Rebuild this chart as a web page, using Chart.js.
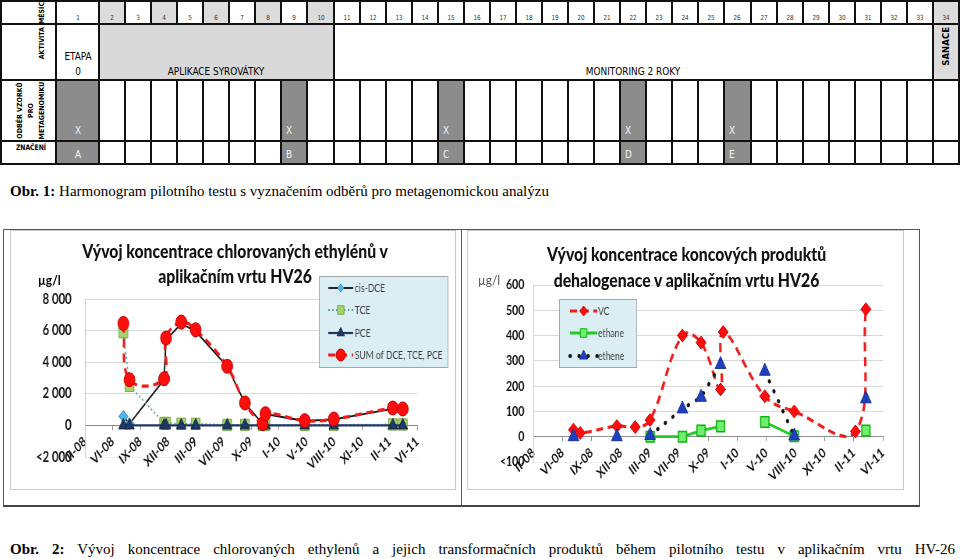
<!DOCTYPE html>
<html lang="cs"><head><meta charset="utf-8">
<title>Harmonogram a vývoj koncentrací HV26</title>
<script src="https://cdn.jsdelivr.net/npm/chart.js@4.4.1/dist/chart.umd.min.js"></script>
<style>
html,body{margin:0;padding:0;background:#fff;}
body{width:960px;height:559px;position:relative;overflow:hidden;font-family:'DejaVu Sans Condensed','DejaVu Sans',sans-serif;color:#000;}
.a{position:absolute;white-space:nowrap;}
.vt{position:absolute;white-space:nowrap;transform-origin:0 0;transform:rotate(-90deg);}
.cap{position:absolute;font-family:'Liberation Serif','DejaVu Serif',serif;font-size:15px;line-height:18px;white-space:nowrap;}
.ttl{position:absolute;font-family:Lato,'DejaVu Sans Condensed',sans-serif;font-weight:900;font-size:18px;text-align:center;white-space:nowrap;color:#111;transform:scaleX(0.875);transform-origin:50% 0;}
canvas{position:absolute;transform-origin:0 0;transform:scaleX(0.78);}
</style></head><body>
<div id="tbl"></div>
<div class="cap" style="left:10px;top:182px"><b>Obr. 1:</b> Harmonogram pilotního testu s vyznačením odběrů pro metagenomickou analýzu</div>

<div class="a" style="left:3px;top:229px;width:917px;height:278px;border:1px solid #555;border-bottom:2px solid #444;box-sizing:border-box"></div>
<div class="a" style="left:461px;top:229px;width:1px;height:278px;background:#555"></div>
<div class="a" style="left:10px;top:230px;width:446px;height:260px;border:1px solid #c8c8c8;box-sizing:border-box"></div>
<div class="a" style="left:467px;top:230px;width:437px;height:260px;border:1px solid #c8c8c8;box-sizing:border-box"></div>

<canvas id="c1" width="572" height="260" style="left:10px;top:230px"></canvas>
<canvas id="c2" width="560" height="260" style="left:467px;top:230px"></canvas>

<div class="ttl" style="left:12px;top:239px;width:446px;line-height:25px">Vývoj koncentrace chlorovaných ethylénů v<br>aplikačním vrtu HV26</div>
<div class="ttl" style="left:468px;top:241px;width:437px;line-height:26px">Vývoj koncentrace koncových produktů<br>dehalogenace v aplikačním vrtu HV26</div>
<div class="a" style="left:38px;top:271px;font-family:Lato,sans-serif;font-size:14px;font-weight:bold;line-height:18px;transform:scaleX(0.85);transform-origin:0 0">µg/l</div>
<div class="a" style="left:478px;top:271px;font-family:Lato,sans-serif;font-size:14px;color:#555;line-height:18px;transform:scaleX(0.85);transform-origin:0 0">µg/l</div>

<div class="cap" style="left:10px;top:540px;width:945px;text-align:justify;text-align-last:justify;white-space:normal"><b>Obr. 2:</b> Vývoj koncentrace chlorovaných ethylenů a jejich transformačních produktů během pilotního testu v&nbsp;aplikačním vrtu HV-26</div>

<script>
// ---------- table content ----------
const monthLabels = ['1','2','3','4','5','6','7','8','9','10','11','12','13','14','15','16','17','18','19','20','21','22','23','24','25','26','27','28','29','30','31','32','33','34'];
const shadedMonths = [2,4,6,8,10,34];
const sampleMonths = [1,9,15,22,26];
const sampleCodes = ['A','B','C','D','E'];
const activities = [
  {text:'APLIKACE SYROVÁTKY', from:2, to:10, fill:'#d9d9d9'},
  {text:'MONITORING 2 ROKY', from:11, to:33, fill:'#ffffff'}
];

// ---------- chart data ----------
const xLabels = ['II-08','VI-08','IX-08','XII-08','III-09','VII-09','X-09','I-10','V-10','VIII-10','XI-10','II-11','VI-11'];

const datesL = [1.39, 1.61, 2.86, 2.93, 3.48, 4.00, 5.14, 5.78, 6.42, 6.52, 7.94, 8.99, 11.12, 11.48];
const cisDCE = [570, 100, 2900, 5400, 6450, 5950, 3720, 1400, 90, 720, 280, 380, 1040, 980];
const TCE    = [5900, 2510, 150, 150, 100, 100, 30, 30, 30, 30, 30, 30, 60, 60];
const PCE    = [0, 0, 0, 0, 0, 0, 0, 0, 0, 0, 0, 0, 0, 0];
const SUM    = [6450, 2890, 2950, 5530, 6540, 6050, 3740, 1420, 110, 740, 300, 400, 1100, 1040];
const yTicksL = ['<2 000','0','2 000','4 000','6 000','8 000'];

const datesR = [1.38, 1.61, 2.87, 3.50, 4.01, 5.12, 5.76, 6.43, 6.52, 7.95, 8.96, 11.06, 11.42];
const VC     = [28, 15, 42, 38, 66, 400, 372, 187, 414, 160, 100, 21, 504];
const ethane = [null, null, null, null, 0, 0, 24, 41, null, 58, 2, null, 24];
const ethene = [0, null, 0, null, 5, 110, 156, 286, null, 259, 3, null, 150];
const yTicksR = ['<100','0','100','200','300','400','500','600'];

// ---------- build table ----------
const tbl = document.getElementById('tbl');
const H0 = 56, C1 = 99, CW = 26.06;
const colL = c => c === 1 ? H0 : C1 + (c - 2) * CW;
const colR = c => c === 1 ? C1 : C1 + (c - 1) * CW;
const rowY = [0, 24, 80, 141, 164];
function el(css, html, cls) {
  const d = document.createElement('div');
  d.className = cls || 'a';
  d.style.cssText = css;
  if (html !== undefined) d.innerHTML = html;
  tbl.appendChild(d);
  return d;
}
function rect(x0, y0, x1, y1, bg) { el(`left:${x0}px;top:${y0}px;width:${x1-x0}px;height:${y1-y0}px;background:${bg}`); }
function hline(y, x0, x1) { el(`left:${x0}px;top:${y-1}px;width:${x1-x0}px;height:2px;background:#111`); }
function vline(x, y0, y1) { el(`left:${x-1}px;top:${y0}px;width:2px;height:${y1-y0}px;background:#111`); }
function ctext(txt, cx, cy, size, extra) {
  el(`left:${cx-100}px;top:${cy-size}px;width:200px;text-align:center;font-size:${size}px;line-height:${size*2}px;transform:scaleX(0.9);${extra||''}`, txt);
}
function ltext(txt, x, cy, size, extra) {
  el(`left:${x}px;top:${cy-size}px;font-size:${size}px;line-height:${size*2}px;transform:scaleX(0.9);transform-origin:0 0;${extra||''}`, txt);
}
function vtext(txt, cx, yTop, len, size, lineH, align, extra) {
  el(`left:${cx - lineH/2}px;top:${yTop+len}px;width:${len}px;text-align:${align};font-size:${size}px;line-height:${lineH}px;${extra||''}`, txt, 'vt');
}
// backgrounds
shadedMonths.forEach(m => rect(colL(m), rowY[0], colR(m), rowY[1], '#dcdcdc'));
activities.forEach(a => rect(colL(a.from), rowY[1], colR(a.to), rowY[2], a.fill));
rect(colL(34), rowY[1], colR(34), rowY[2], '#dcdcdc');
sampleMonths.forEach(m => rect(colL(m), rowY[2], colR(m), rowY[4], '#8c8c8c'));
// lines
rowY.forEach(y => hline(y === 0 ? 1 : y, 0, 960));
vline(1, 0, 164); vline(H0, 0, 164);
[0, 2, 3].forEach(r => { for (let c = 1; c <= 34; c++) vline(colR(c), rowY[r], rowY[r+1]); });
[1, 10, 33, 34].forEach(c => vline(colR(c), rowY[1], rowY[2]));
// texts
monthLabels.forEach((t, i) => ctext(t, (colL(i+1) + colR(i+1)) / 2, 18, 7, 'color:#333'));
ctext('ETAPA', 77.5, 57, 11);
ctext('0', 77.5, 72, 11);
activities.forEach(a => ctext(a.text, (colL(a.from) + colR(a.to)) / 2, 72, 11));
vtext('SANACE', (colL(34) + colR(34)) / 2, 27, 40, 9.5, 13, 'right', 'font-weight:bold');
sampleMonths.forEach((m, i) => {
  if (m === 1) { ctext('X', 77.5, 131, 11, 'color:#f4f4f4'); ctext(sampleCodes[i], 77.5, 155, 11, 'color:#f4f4f4'); }
  else { ltext('X', colL(m) + 5, 131, 11, 'color:#f4f4f4'); ltext(sampleCodes[i], colL(m) + 5, 155, 11, 'color:#f4f4f4'); }
});
vtext('MĚSÍC', 42, 2, 22, 7, 10, 'right', 'font-weight:bold');
vtext('AKTIVITA', 42, 27, 40, 7, 10, 'right', 'font-weight:bold');
vtext('ODBĚR VZORKŮ<br>PRO<br>METAGENOMIKU', 20.7, 80, 61, 7, 10.8, 'center', 'font-weight:bold');
ctext('ZNAČENÍ', 31, 147, 7.5, 'font-weight:bold');

// ---------- charts ----------
// canvases are drawn wide and squeezed horizontally by 0.78 (like the reference figure)
const FONT = "Lato,'DejaVu Sans Condensed',sans-serif";

function markerPath(ctx, style, x, y, r) {
  ctx.beginPath();
  if (style === 'circle') ctx.arc(x, y, r, 0, Math.PI * 2);
  else if (style === 'rect') { const s = r * Math.SQRT1_2; ctx.rect(x - s, y - s, 2 * s, 2 * s); }
  else if (style === 'rectRot') { ctx.moveTo(x, y - r); ctx.lineTo(x + r, y); ctx.lineTo(x, y + r); ctx.lineTo(x - r, y); ctx.closePath(); }
  else if (style === 'triangle') {
    ctx.moveTo(x, y - r);
    ctx.lineTo(x + r * Math.sin(2 * Math.PI / 3), y - r * Math.cos(2 * Math.PI / 3));
    ctx.lineTo(x + r * Math.sin(4 * Math.PI / 3), y - r * Math.cos(4 * Math.PI / 3));
    ctx.closePath();
  }
}
const boxLegend = {
  id: 'boxLegend',
  afterDraw(chart, args, o) {
    if (!o || !o.rows) return;
    const ctx = chart.ctx;
    ctx.save();
    ctx.fillStyle = o.bg; ctx.fillRect(o.x, o.y, o.w, o.h);
    ctx.strokeStyle = o.border; ctx.lineWidth = 1; ctx.setLineDash([]);
    ctx.strokeRect(o.x + 0.5, o.y + 0.5, o.w, o.h);
    o.rows.forEach(row => {
      const ds = chart.data.datasets[row.index];
      ctx.save();
      ctx.beginPath();
      ctx.setLineDash(ds.borderDash || []);
      ctx.lineCap = ds.borderCapStyle || 'butt';
      ctx.strokeStyle = ds.borderColor; ctx.lineWidth = ds.borderWidth;
      ctx.moveTo(o.sample[0], row.y); ctx.lineTo(o.sample[1], row.y); ctx.stroke();
      ctx.restore();
      markerPath(ctx, ds.pointStyle, (o.sample[0] + o.sample[1]) / 2, row.y, row.r);
      ctx.fillStyle = ds.pointBackgroundColor; ctx.fill();
      ctx.strokeStyle = ds.pointBorderColor; ctx.lineWidth = 1; ctx.setLineDash([]); ctx.stroke();
      ctx.fillStyle = '#404040';
      ctx.font = o.font;
      ctx.textBaseline = 'middle';
      ctx.fillText(ds.label, o.textX, row.y + 0.5);
    });
    ctx.restore();
  }
};

function pts(xs, ys) { return xs.map((x, i) => ({x: x, y: ys[i]})); }

function options(cfg) {
  return {
    responsive: false, animation: false, events: [],
    layout: {padding: {left: 0, top: cfg.padTop, right: cfg.padRight, bottom: cfg.padBottom}},
    plugins: {legend: {display: false}, tooltip: {enabled: false}, title: {display: false}, boxLegend: cfg.legend},
    scales: {
      x: {
        type: 'linear', min: 0, max: 12, position: {y: 0},
        ticks: {stepSize: 1, autoSkip: false, minRotation: 41, maxRotation: 41, padding: cfg.xPad, color: '#111',
                font: {family: FONT, size: 13.5, weight: 'bold'}, callback: (v, i) => xLabels[i]},
        grid: {drawOnChartArea: false, drawTicks: true, tickLength: 4, color: '#8c8c8c'},
        border: {display: true, color: '#8c8c8c', width: 1}
      },
      y: {
        min: cfg.yMin, max: cfg.yMax,
        afterFit: s => { s.width = cfg.yWidth; },
        ticks: {stepSize: cfg.step, padding: cfg.yPad, color: '#111', font: {family: FONT, size: cfg.ySize, weight: 'bold'},
                callback: (v, i) => cfg.yLabels[i]},
        grid: {drawTicks: false, color: c => (c.tick && c.tick.value === cfg.yMin) ? '#ededed' : '#d9d9d9'},
        border: {display: true, color: '#c8c8c8'}
      }
    }
  };
}

new Chart(document.getElementById('c1'), {
  type: 'line',
  data: {datasets: [
    {label: 'cis-DCE', data: pts(datesL, cisDCE), order: 3, tension: 0,
     borderColor: '#111111', borderWidth: 1.8, pointStyle: 'rectRot', pointRadius: 6,
     pointBackgroundColor: '#4fb3e8', pointBorderColor: '#3a8fc0', pointBorderWidth: 1},
    {label: 'TCE', data: pts(datesL, TCE), order: 2, tension: 0,
     borderColor: '#5aa0a0', borderWidth: 1.8, borderDash: [2, 3], pointStyle: 'rect', pointRadius: 8,
     pointBackgroundColor: '#a5d46a', pointBorderColor: '#78a64a', pointBorderWidth: 1},
    {label: 'PCE', data: pts(datesL, PCE), order: 1, tension: 0,
     borderColor: '#1f3864', borderWidth: 2.2, pointStyle: 'triangle', pointRadius: 7,
     pointBackgroundColor: '#1f3864', pointBorderColor: '#14284a', pointBorderWidth: 1},
    {label: 'SUM of DCE, TCE, PCE', data: pts(datesL, SUM), order: 0, tension: 0.4,
     borderColor: '#ee1c1c', borderWidth: 3.2, borderDash: [9, 6], pointStyle: 'circle', pointRadius: 7,
     pointBackgroundColor: '#ff0d0d', pointBorderColor: '#c00000', pointBorderWidth: 1}
  ]},
  options: options({padTop: 69, padRight: 50, padBottom: 33, yMin: -2000, yMax: 8000, step: 2000, yWidth: 96,
    yPad: 17, ySize: 14.5, xPad: 4, yLabels: yTicksL,
    legend: {x: 396, y: 46, w: 165, h: 91, bg: '#dbeef4', border: '#a6a6a6', sample: [408, 440], textX: 442,
             font: "11px " + FONT,
             rows: [{index: 0, y: 58, r: 4}, {index: 1, y: 80, r: 6}, {index: 2, y: 103, r: 5.5}, {index: 3, y: 125, r: 6}]}}),
  plugins: [boxLegend]
});

new Chart(document.getElementById('c2'), {
  type: 'line',
  data: {datasets: [
    {label: 'VC', data: pts(datesR, VC), order: 2, tension: 0.4,
     borderColor: '#ee1c1c', borderWidth: 3.2, borderDash: [9, 6], pointStyle: 'rectRot', pointRadius: 6.5,
     pointBackgroundColor: '#ff0d0d', pointBorderColor: '#c80000', pointBorderWidth: 1},
    {label: 'ethane', data: pts(datesR, ethane), order: 1, tension: 0,
     borderColor: '#22cc22', borderWidth: 2.8, pointStyle: 'rect', pointRadius: 7.5,
     pointBackgroundColor: '#6fee6f', pointBorderColor: '#10b010', pointBorderWidth: 1.5},
    {label: 'ethene', data: pts(datesR, ethene), order: 0, tension: 0,
     borderColor: '#111111', borderWidth: 4, borderDash: [0.5, 11], borderCapStyle: 'round', pointStyle: 'triangle', pointRadius: 8,
     pointBackgroundColor: '#1f3fbf', pointBorderColor: '#17309a', pointBorderWidth: 1}
  ]},
  options: options({padTop: 55, padRight: 27, padBottom: 28, yMin: -100, yMax: 600, step: 100, yWidth: 85,
    yPad: 11.5, ySize: 13.5, xPad: 4, yLabels: yTicksR,
    legend: {x: 118, y: 69, w: 99, h: 68, bg: '#dbeef4', border: '#a6a6a6', sample: [132, 167], textX: 168,
             font: "11px " + FONT,
             rows: [{index: 0, y: 81, r: 5}, {index: 1, y: 103, r: 6}, {index: 2, y: 126, r: 6}]}}),
  plugins: [boxLegend]
});
</script>
</body></html>
